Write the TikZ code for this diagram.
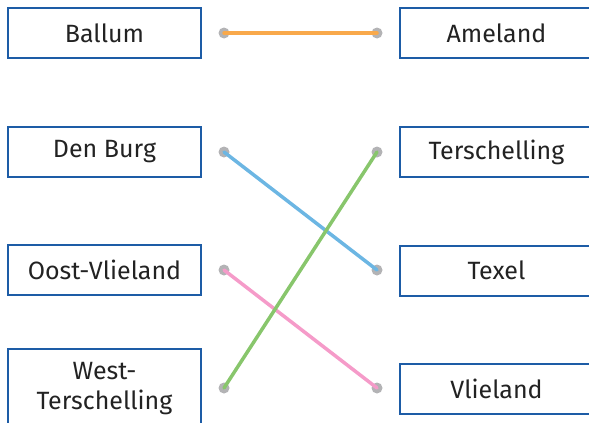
\documentclass[tikz,border=0pt]{standalone}
\usepackage{fontspec}
\setmainfont{Fira Sans}
\definecolor{boxblue}{HTML}{1D5CA6}
\definecolor{txt}{HTML}{222222}
\definecolor{dotgray}{HTML}{B3B3B5}
\definecolor{lorange}{HTML}{F9A94B}
\definecolor{lblue}{HTML}{6CB6E3}
\definecolor{lgreen}{HTML}{88C66C}
\definecolor{lpink}{HTML}{F59BC9}
\tikzset{
  itembox/.style={draw=boxblue, line width=2pt, minimum width=193pt, minimum height=50pt,
    inner sep=0pt, text=txt, font=\fontsize{25}{30}\selectfont, align=center},
  dotpt/.style={circle, fill=dotgray, minimum size=11pt, inner sep=0pt},
  link/.style={line width=3.5pt, line cap=round}
}
\begin{document}
\begin{tikzpicture}[x=1pt,y=-1pt]
\useasboundingbox (0,0) rectangle (589,423);
\clip (0,0) rectangle (589,423);
% left boxes
\node[itembox] (ballum) at (104.5,33) {Ballum};
\node[itembox] (denburg) at (104.5,152) {Den Burg};
\node[itembox] (oost) at (104.5,270) {Oost-Vlieland};
\node[itembox, minimum height=80pt] (west) at (104.5,389) {West-\\Terschelling};
% right boxes
\node[itembox] (ameland) at (496.5,33) {Ameland};
\node[itembox] (tersch) at (496.5,152) {Terschelling};
\node[itembox] (texel) at (496.5,270.5) {Texel};
\node[itembox] (vlieland) at (496.5,389) {Vlieland};
% dots
\node[dotpt] (l1) at (224,33) {};
\node[dotpt] (l2) at (224,152) {};
\node[dotpt] (l3) at (224,270) {};
\node[dotpt] (l4) at (224,388) {};
\node[dotpt] (r1) at (377,33) {};
\node[dotpt] (r2) at (377,152) {};
\node[dotpt] (r3) at (377,270) {};
\node[dotpt] (r4) at (377,388) {};
% links
\draw[link, lorange] (l1.center) -- (r1.center);
\draw[link, lblue] (l2.center) -- (r3.center);
\draw[link, lpink] (l3.center) -- (r4.center);
\draw[link, lgreen] (l4.center) -- (r2.center);
\end{tikzpicture}
\end{document}
